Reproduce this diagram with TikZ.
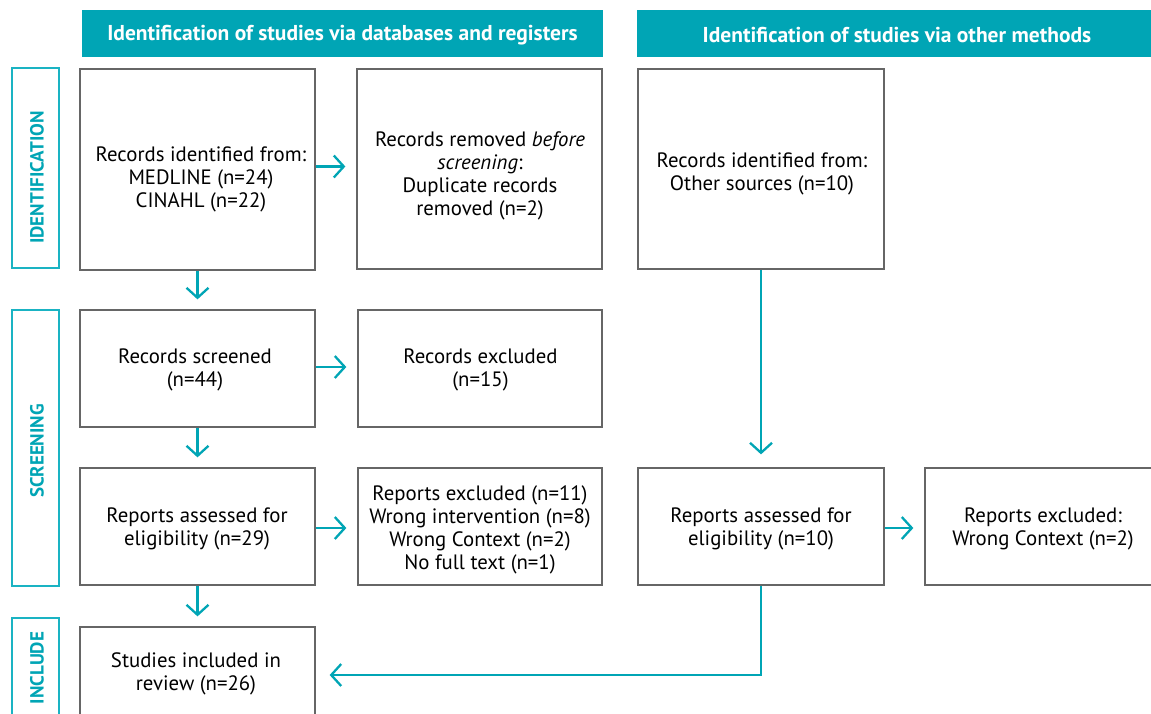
\documentclass[tikz,border=0pt]{standalone}
\usepackage{fontspec}
\setmainfont{PT Sans}
\usetikzlibrary{arrows.meta}
\definecolor{teal1}{HTML}{00A5B5}
\definecolor{teal2}{HTML}{1AB3C3}
\definecolor{boxgray}{HTML}{666666}
\tikzset{
  box/.style={draw=boxgray,line width=1.3pt,rectangle,inner sep=0pt},
  txt/.style={align=center,font=\fontsize{20.8}{23}\selectfont,text=black,inner sep=0pt},
  head/.style={fill=teal1,inner sep=0pt},
  headtxt/.style={text=white,font=\bfseries\fontsize{21.5}{24}\selectfont,inner sep=0pt},
  side/.style={draw=teal2,line width=2.8pt,inner sep=0pt},
  sidetxt/.style={text=teal1,font=\bfseries\fontsize{19}{20}\selectfont,rotate=90,inner sep=0pt},
  arr/.style={draw=teal1,line width=2.3pt,-{Straight Barb[length=10pt,width=22pt,line width=2.3pt]}},
}
\begin{document}
\begin{tikzpicture}[x=1pt,y=-1pt]
\clip (0,0) rectangle (1151,713);
\fill[white] (0,0) rectangle (1151,713);
% headers
\node[head,minimum width=521pt,minimum height=47pt] (h1) at (342.5,33.5) {};
\node[headtxt] (h1t) at (342.5,35) {Identification of studies via databases and registers};
\node[head,minimum width=540pt,minimum height=47pt] (h2) at (907,33.5) {};
\node[headtxt] (h2t) at (897,35) {Identification of studies via other methods};
% side labels
\node[side,minimum width=47pt,minimum height=200pt] (s1) at (35.5,168) {};
\node[sidetxt] (s1t) at (37,177.5) {IDENTIFICATION};
\node[side,minimum width=47pt,minimum height=276pt] (s2) at (35.5,448) {};
\node[sidetxt] (s2t) at (37,451) {SCREENING};
\node[side,minimum width=47pt,minimum height=120pt] (s3) at (35.5,678) {};
\node[sidetxt] (s3t) at (37,668) {INCLUDE};
% boxes
\node[box,minimum width=235pt,minimum height=201pt] (ident) at (197.5,169.5) {};
\node[txt] (identt) at (201,179) {Records identified from:\\MEDLINE (n=24)\\CINAHL (n=22)};
\node[box,minimum width=245pt,minimum height=200pt] (removed) at (479.5,169) {};
\node[txt] (removedt) at (480,175.5) {Records removed \textit{before}\\\textit{screening}:\\Duplicate records\\removed (n=2)};
\node[box,minimum width=246pt,minimum height=200pt] (other) at (761,169) {};
\node[txt] (othert) at (762,173.5) {Records identified from:\\Other sources (n=10)};
\node[box,minimum width=235pt,minimum height=117pt] (screened) at (197.5,368.5) {};
\node[txt] (screenedt) at (195,370) {Records screened\\(n=44)};
\node[box,minimum width=244pt,minimum height=117pt] (excl) at (480,368.5) {};
\node[txt] (exclt) at (480.5,370) {Records excluded\\(n=15)};
\node[box,minimum width=235pt,minimum height=117pt] (assessed) at (197.5,526.5) {};
\node[txt] (assessedt) at (197,528.5) {Reports assessed for\\eligibility (n=29)};
\node[box,minimum width=244pt,minimum height=117pt] (rexcl) at (480,526.5) {};
\node[txt] (rexclt) at (480,529.5) {Reports excluded (n=11)\\Wrong intervention (n=8)\\Wrong Context (n=2)\\No full text (n=1)};
\node[box,minimum width=246pt,minimum height=117pt] (assessed2) at (761,526.5) {};
\node[txt] (assessed2t) at (761,528.5) {Reports assessed for\\eligibility (n=10)};
\node[box,minimum width=255pt,minimum height=117pt] (rexcl2) at (1052.5,526.5) {};
\node[txt] (rexcl2t) at (1043,528.5) {Reports excluded:\\Wrong Context (n=2)};
\node[box,minimum width=235pt,minimum height=94pt] (included) at (197.5,674) {};
\node[txt] (includedt) at (196,674) {Studies included in\\review (n=26)};
% arrows
\draw[arr,shorten >=10pt] (ident.south) -- (screened.north);
\draw[arr,shorten >=10pt] (screened.south) -- (assessed.north);
\draw[arr,shorten >=10pt] (assessed.south) -- (included.north);
\draw[arr,shorten >=11pt] ([yshift=3pt]ident.east) -- ([yshift=3pt]ident.east -| removed.west);
\draw[arr,shorten >=11pt] ([yshift=1.5pt]screened.east) -- ([yshift=1.5pt]screened.east -| excl.west);
\draw[arr,shorten >=11pt] ([yshift=-1.5pt]assessed.east) -- ([yshift=-1.5pt]assessed.east -| rexcl.west);
\draw[arr,shorten >=13pt] (other.south) -- (assessed2.north);
\draw[arr,shorten >=11pt] ([yshift=-1.5pt]assessed2.east) -- ([yshift=-1.5pt]assessed2.east -| rexcl2.west);
\draw[arr,shorten >=14pt] (assessed2.south) |- ([yshift=-1pt]included.east);
\end{tikzpicture}
\end{document}
